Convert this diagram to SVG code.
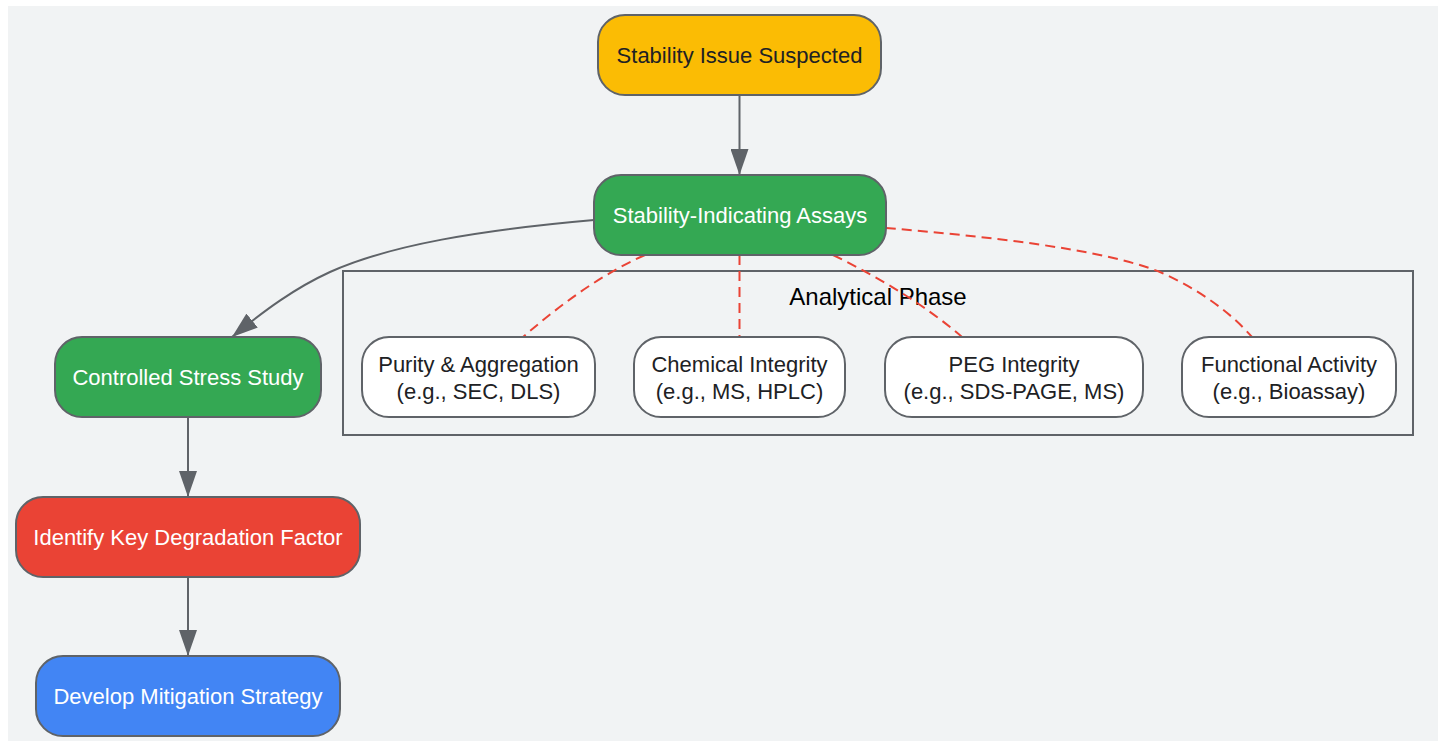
<svg xmlns="http://www.w3.org/2000/svg" width="1445" height="741" viewBox="0 0 1445 741">
<defs>
<style>
.node rect{stroke:#5F6368;stroke-width:2}
.lbl{font-family:"Liberation Sans",Arial,sans-serif;font-size:22px;text-anchor:middle;dominant-baseline:central}
.dark{fill:#202124}
.light{fill:#FFFFFF}
.edge{fill:none;stroke:#5F6368;stroke-width:2}
.dash{fill:none;stroke:#EA4335;stroke-width:2;stroke-dasharray:10,6}
</style>
<marker id="arr" viewBox="0 0 26 18" refX="26" refY="9" markerWidth="26" markerHeight="18" markerUnits="userSpaceOnUse" orient="auto">
<path d="M0,0 L26,9 L0,18 Z" fill="#5F6368"/>
</marker>
</defs>
<rect x="0" y="0" width="1445" height="741" fill="#FFFFFF"/>
<rect x="8" y="6" width="1430" height="735" fill="#F1F3F4"/>
<g id="cluster-analytical">
<rect x="343" y="271" width="1070" height="164" fill="none" stroke="#5F6368" stroke-width="2"/>
<text x="878" y="296" class="lbl" style="font-size:24px" fill="#000000">Analytical Phase</text>
</g>
<g id="connectors">
<path class="edge" d="M739.5,95 L739.5,175" marker-end="url(#arr)"/>
<path class="edge" d="M594,220 C480,230 390,245 330,272 C295,288 265,310 232,337" marker-end="url(#arr)"/>
<path class="edge" d="M188,417 L188,497" marker-end="url(#arr)"/>
<path class="edge" d="M188,577 L188,656" marker-end="url(#arr)"/>
<path class="dash" d="M645,255 C600,275 560,305 523,337"/>
<path class="dash" d="M739.5,255 L739.5,337"/>
<path class="dash" d="M833,255 C880,278 925,305 962,337"/>
<path class="dash" d="M886,228 C980,236 1100,248 1160,272 C1200,290 1230,312 1252,337"/>
</g>
<g id="node-issue" class="node">
<rect x="598" y="15" width="283" height="80" rx="27" fill="#FBBC04"/>
<text x="739.5" y="55" class="lbl dark">Stability Issue Suspected</text>
</g>
<g id="node-assays" class="node">
<rect x="594" y="175" width="292" height="80" rx="27" fill="#34A853"/>
<text x="740" y="215" class="lbl light">Stability-Indicating Assays</text>
</g>
<g id="node-stress" class="node">
<rect x="55" y="337" width="266" height="80" rx="27" fill="#34A853"/>
<text x="188" y="377" class="lbl light">Controlled Stress Study</text>
</g>
<g id="node-factor" class="node">
<rect x="16" y="497" width="344" height="80" rx="27" fill="#EA4335"/>
<text x="188" y="537" class="lbl light">Identify Key Degradation Factor</text>
</g>
<g id="node-mitigation" class="node">
<rect x="36" y="656" width="304" height="80" rx="27" fill="#4285F4"/>
<text x="188" y="696" class="lbl light">Develop Mitigation Strategy</text>
</g>
<g id="node-purity" class="node">
<rect x="362" y="337" width="233" height="80" rx="27" fill="#FFFFFF"/>
<text x="478.5" y="364" class="lbl dark">Purity &amp; Aggregation</text>
<text x="478.5" y="391" class="lbl dark">(e.g., SEC, DLS)</text>
</g>
<g id="node-chemical" class="node">
<rect x="634" y="337" width="211" height="80" rx="27" fill="#FFFFFF"/>
<text x="739.5" y="364" class="lbl dark">Chemical Integrity</text>
<text x="739.5" y="391" class="lbl dark">(e.g., MS, HPLC)</text>
</g>
<g id="node-peg" class="node">
<rect x="885" y="337" width="258" height="80" rx="27" fill="#FFFFFF"/>
<text x="1014" y="364" class="lbl dark">PEG Integrity</text>
<text x="1014" y="391" class="lbl dark">(e.g., SDS-PAGE, MS)</text>
</g>
<g id="node-functional" class="node">
<rect x="1182" y="337" width="214" height="80" rx="27" fill="#FFFFFF"/>
<text x="1289" y="364" class="lbl dark">Functional Activity</text>
<text x="1289" y="391" class="lbl dark">(e.g., Bioassay)</text>
</g>
</svg>
